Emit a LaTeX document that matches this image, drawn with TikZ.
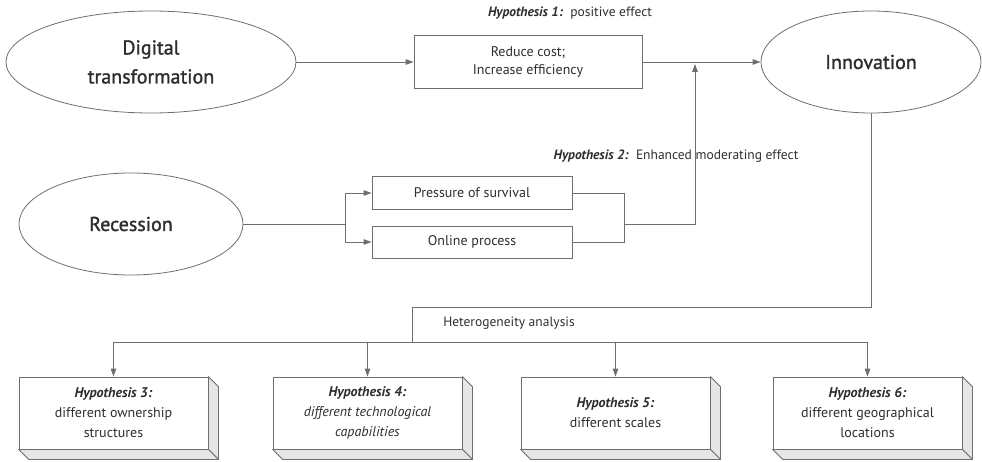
\documentclass[tikz,border=0pt]{standalone}
\usepackage{fontspec}
\setmainfont{PT Sans}
\newfontfamily\medfont[FakeBold=1.4]{PT Sans}
\usetikzlibrary{shapes.geometric,arrows.meta,calc}
\definecolor{txt}{HTML}{2E2E2E}
\definecolor{ln}{HTML}{6E6E6E}
\definecolor{face}{HTML}{E6E6E6}
\begin{document}
\begin{tikzpicture}[x=1pt,y=-1pt,
  ell/.style={ellipse,draw=ln,line width=0.8pt,inner sep=0pt,text=txt,align=center,
    font=\medfont\fontsize{20}{29}\selectfont},
  rbox/.style={rectangle,draw=ln,line width=0.8pt,inner sep=0pt,text=txt,align=center,
    font=\fontsize{14}{18.5}\selectfont},
  hbox/.style={rectangle,draw=ln,fill=white,line width=0.8pt,inner sep=0pt,text=txt,align=center,
    minimum width=189pt,minimum height=72pt,font=\fontsize{14}{20}\selectfont},
  lbl/.style={text=txt,inner sep=0pt,font=\fontsize{13.5}{16}\selectfont},
  line/.style={draw=ln,line width=0.9pt},
  arr/.style={line,-{Triangle[length=8pt,width=5.5pt]}},
  sidef/.style={draw=ln,fill=face,line width=0.8pt,line join=round}
]
\useasboundingbox (0,0) rectangle (982,462);

% ellipses
\node[ell,minimum width=290pt,minimum height=102pt] (dt) at (151,62) {Digital\\transformation};
\node[ell,minimum width=220pt,minimum height=102pt] (inn) at (871,62) {Innovation};
\node[ell,minimum width=224pt,minimum height=102pt] (rec) at (131,224) {Recession};

% mechanism boxes
\node[rbox,minimum width=228pt,minimum height=53pt] (rc) at (528,62) {Reduce cost;\\Increase efficiency};
\node[rbox,minimum width=200pt,minimum height=33pt] (ps) at (472,193) {Pressure of survival};
\node[rbox,minimum width=200pt,minimum height=32pt] (op) at (472,242) {Online process};

% labels
\node[lbl] (l1) at (570,13) {\textbf{\textit{Hypothesis 1:}}\ \ positive effect};
\node[lbl] (l2) at (676,156) {\textbf{\textit{Hypothesis 2:}}\ \ Enhanced moderating effect};
\node[lbl] (l3) at (509,323) {Heterogeneity analysis};

% hypothesis boxes (3D)
\node[hbox] (h3) at (113.5,413) {\textbf{\textit{Hypothesis 3:}}\\different ownership\\structures};
\node[hbox] (h4) at (367.5,413) {\textbf{\textit{Hypothesis 4:}}\\\textit{different technological}\\\textit{capabilities}};
\node[hbox] (h5) at (615.5,413) {\textbf{\textit{Hypothesis 5:}}\\different scales};
\node[hbox] (h6) at (867.5,413) {\textbf{\textit{Hypothesis 6:}}\\different geographical\\locations};
\foreach \n in {h3,h4,h5,h6}{
  \path[sidef] (\n.north east) -- ++(10,10) -- ($(\n.south east)+(10,10)$) -- (\n.south east) -- cycle;
  \path[sidef] (\n.south west) -- ++(10,10) -- ($(\n.south east)+(10,10)$) -- (\n.south east) -- cycle;
}

% coordinates
\coordinate (split) at (345,224);
\coordinate (m1) at (624,224);
\coordinate (jt) at (695,64);
\coordinate (t1) at (412,307);
\coordinate (bus) at (412,342);

% connectors top
\draw[arr] (dt.east) -- (rc.west);
\draw[arr] (rc.east) -- (inn.west);

% recession branch
\draw[line] (rec.east) -- (split);
\draw[arr] (split) |- (ps.west);
\draw[arr] (split) |- (op.west);
\draw[line] (ps.east) -- (ps.east -| m1) -- (op.east -| m1) -- (op.east);
\draw[arr] (m1) -| (jt);

% heterogeneity
\draw[line] (inn.south) |- (t1) -- (bus);
\draw[line] (h3.north |- bus) -- (h6.north |- bus);
\foreach \n in {h3,h4,h5,h6}{
  \draw[arr] (\n.north |- bus) -- (\n.north);
}
\end{tikzpicture}
\end{document}
